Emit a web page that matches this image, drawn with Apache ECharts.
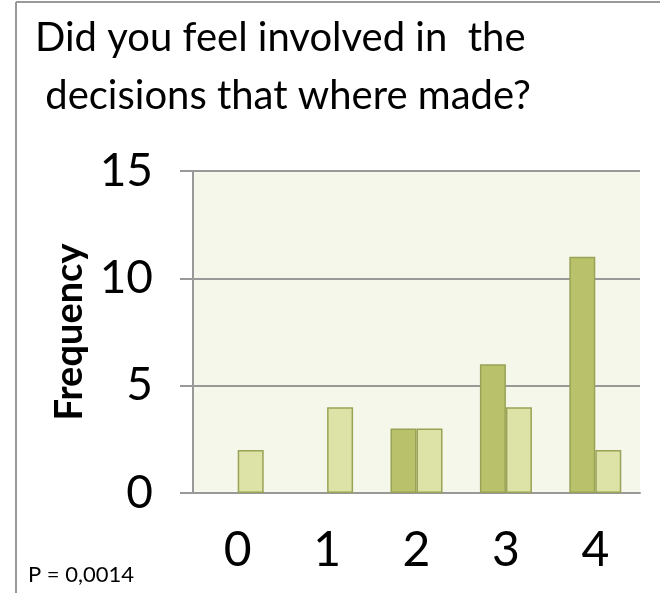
<!DOCTYPE html>
<html>
<head>
<meta charset="utf-8">
<script src="https://cdn.jsdelivr.net/npm/echarts@6/dist/echarts.min.js"></script>
<style>
  html, body { margin:0; padding:0; background:#fff; }
  #chart { width:660px; height:593px; }
</style>
</head>
<body>
<div id="chart"></div>
<script>
var categories = ['0', '1', '2', '3', '4'];
var seriesDark = [0, 0, 3, 6, 11];
var seriesLight = [2, 4, 3, 4, 2];
var yTicks = { min: 0, max: 15, interval: 5 };

var font = 'Lato';
// zero counts draw no bar in the original
function noZero(arr) {
	return arr.map(function (v) { return v === 0 ? null : v; });
}

var myChart = echarts.init(document.getElementById('chart'));
var option = {
	animation: false,
	backgroundColor: '#ffffff',
	title: {
		text: 'Did you feel involved in  the\n decisions that where made?',
		left: 30, top: 4,
		textStyle: { fontFamily: font, fontSize: 40, fontWeight: 'normal', color: '#000', lineHeight: 58 }
	},
	graphic: [
		{ type: 'line', shape: { x1: 16, y1: 2, x2: 660, y2: 2 }, style: { stroke: '#999', lineWidth: 2 } },
		{ type: 'line', shape: { x1: 16, y1: 2, x2: 16, y2: 593 }, style: { stroke: '#999', lineWidth: 2 } },
		{ type: 'text', left: 28, top: 564, style: { text: 'P = 0,0014', font: '22px Lato', fill: '#000' } }
	],
	grid: {
		left: 193, right: 20, top: 171, bottom: 100,
		show: true, backgroundColor: '#f5f7eb', borderWidth: 0
	},
	xAxis: {
		type: 'category',
		data: categories,
		axisLine: { lineStyle: { color: '#999', width: 2 } },
		axisTick: { show: false },
		axisLabel: { fontFamily: font, fontSize: 48, color: '#000', margin: 34 }
	},
	yAxis: {
		type: 'value',
		min: yTicks.min, max: yTicks.max, interval: yTicks.interval,
		name: 'Frequency',
		nameLocation: 'middle',
		nameGap: 91,
		nameTextStyle: { fontFamily: font, fontSize: 38, fontWeight: 'bold', color: '#000' },
		axisLine: { show: true, lineStyle: { color: '#999', width: 2 } },
		axisTick: { show: true, length: 13, lineStyle: { color: '#999', width: 2 } },
		axisLabel: { fontFamily: font, fontSize: 46, color: '#000', margin: 40 },
		splitLine: { show: true, lineStyle: { color: '#999', width: 2 } }
	},
	series: [
		{
			type: 'bar',
			data: noZero(seriesDark),
			barWidth: 26,
			barGap: '0%',
			itemStyle: { color: '#b9c26a', borderColor: '#9aa255', borderWidth: 1.5 }
		},
		{
			type: 'bar',
			data: noZero(seriesLight),
			barWidth: 26,
			barGap: '0%',
			itemStyle: { color: '#dde3a7', borderColor: '#9aa255', borderWidth: 1.5 }
		}
	]
};
myChart.setOption(option);
</script>
</body>
</html>
